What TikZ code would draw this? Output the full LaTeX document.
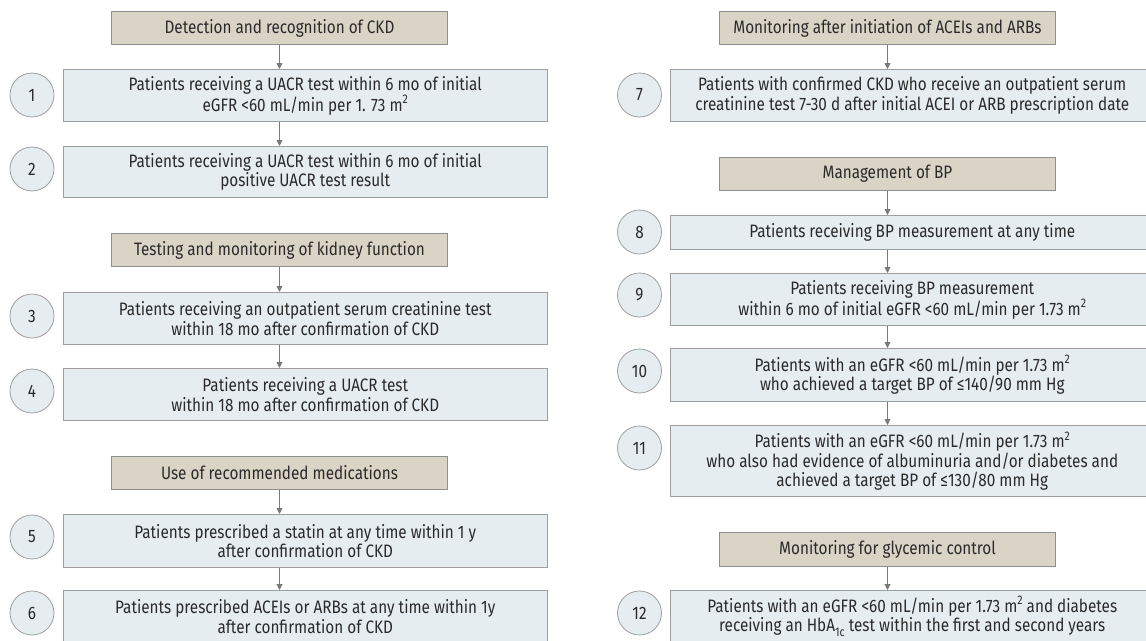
\documentclass[tikz,border=0pt]{standalone}
\usepackage{fontspec}
\setmainfont{Fira Sans}[FakeStretch=0.85]
\usetikzlibrary{arrows.meta}
\definecolor{hdrfill}{HTML}{DAD4C6}
\definecolor{hdrline}{HTML}{8E8E8E}
\definecolor{boxfill}{HTML}{E6EDF1}
\definecolor{boxline}{HTML}{9E9E9E}
\definecolor{txt}{HTML}{2A2A2A}
\definecolor{arrowc}{HTML}{7A7A7A}
\newcommand\mysup[1]{\raisebox{0.42em}{\fontsize{12.5}{12.5}\selectfont #1}}
\newcommand\mysub[1]{\raisebox{-0.28em}{\fontsize{12.5}{12.5}\selectfont #1}}
\begin{document}
\begin{tikzpicture}[x=1pt,y=-1pt, font=\fontsize{18}{19.5}\selectfont, text=txt,
 hdr/.style={draw=hdrline, fill=hdrfill, line width=1pt, minimum width=336pt, minimum height=33pt, inner sep=0pt, anchor=north west},
 box/.style={draw=boxline, fill=boxfill, line width=1pt, minimum width=484.5pt, inner sep=0pt, anchor=north west, align=center},
 num/.style={circle, draw=boxline, fill=boxfill, line width=0.8pt, minimum size=44pt, inner sep=0pt},
 arr/.style={draw=arrowc, line width=0.9pt, -{Triangle[length=6pt,width=6pt]}}]
\useasboundingbox (0,0) rectangle (1146,640);
% left column
\node[hdr] (h1) at (111,11) {Detection and recognition of CKD};
\node[box, minimum height=52pt] (b1) at (62.5,69) {Patients receiving a UACR test within 6 mo of initial\\eGFR <60 mL/min per 1. 73 m\mysup{2}};
\node[box, minimum height=51pt] (b2) at (62.5,146) {Patients receiving a UACR test within 6 mo of initial\\positive UACR test result};
\node[hdr] (h2) at (111,233) {Testing and monitoring of kidney function};
\node[box, minimum height=52pt] (b3) at (62.5,292) {Patients receiving an outpatient serum creatinine test\\within 18 mo after confirmation of CKD};
\node[box, minimum height=52pt] (b4) at (62.5,368) {Patients receiving a UACR test\\within 18 mo after confirmation of CKD};
\node[hdr] (h3) at (111,456) {Use of recommended medications};
\node[box, minimum height=53pt] (b5) at (62.5,514) {Patients prescribed a statin at any time within 1 y\\after confirmation of CKD};
\node[box, minimum height=52pt] (b6) at (62.5,590) {Patients prescribed ACEIs or ARBs at any time within 1y\\after confirmation of CKD};
\node[num] (n1) at (32,95) {1};
\node[num] (n2) at (32,169) {2};
\node[num] (n3) at (32,316) {3};
\node[num] (n4) at (32,391) {4};
\node[num] (n5) at (32,537) {5};
\node[num] (n6) at (32,613) {6};
% right column
\node[hdr] (h4) at (719,11) {Monitoring after initiation of ACEIs and ARBs};
\node[box, minimum height=52pt] (b7) at (669.5,69) {Patients with confirmed CKD who receive an outpatient serum\\creatinine test 7-30 d after initial ACEI or ARB prescription date};
\node[hdr] (h5) at (719,157) {Management of BP};
\node[box, minimum height=34pt] (b8) at (669.5,215) {Patients receiving BP measurement at any time};
\node[box, minimum height=52pt] (b9) at (669.5,273) {Patients receiving BP measurement\\within 6 mo of initial eGFR <60 mL/min per 1.73 m\mysup{2}};
\node[box, minimum height=53pt] (b10) at (669.5,348) {Patients with an eGFR <60 mL/min per 1.73 m\mysup{2}\\who achieved a target BP of ≤140/90 mm Hg};
\node[box, minimum height=71pt] (b11) at (669.5,425) {Patients with an eGFR <60 mL/min per 1.73 m\mysup{2}\\who also had evidence of albuminuria and/or diabetes and\\achieved a target BP of ≤130/80 mm Hg};
\node[hdr, minimum height=34pt] (h6) at (719,532) {Monitoring for glycemic control};
\node[box, minimum height=52pt] (b12) at (669.5,590) {Patients with an eGFR <60 mL/min per 1.73 m\mysup{2} and diabetes\\receiving an HbA\mysub{1c} test within the first and second years};
\node[num] (n7) at (639.5,95) {7};
\node[num] (n8) at (639.5,232) {8};
\node[num] (n9) at (639.5,295) {9};
\node[num] (n10) at (639.5,371) {10};
\node[num] (n11) at (639.5,448) {11};
\node[num] (n12) at (639.5,613) {12};
% arrows
\draw[arr] (h1.south) -- (b1.north -| h1.south);
\draw[arr] (b1.south -| h1.south) -- (b2.north -| h1.south);
\draw[arr] (h2.south) -- (b3.north -| h2.south);
\draw[arr] (b3.south -| h2.south) -- (b4.north -| h2.south);
\draw[arr] (h3.south) -- (b5.north -| h3.south);
\draw[arr] (b5.south -| h3.south) -- (b6.north -| h3.south);
\draw[arr] (h4.south) -- (b7.north -| h4.south);
\draw[arr] (h5.south) -- (b8.north -| h5.south);
\draw[arr] (b8.south -| h5.south) -- (b9.north -| h5.south);
\draw[arr] (b9.south -| h5.south) -- (b10.north -| h5.south);
\draw[arr] (b10.south -| h5.south) -- (b11.north -| h5.south);
\draw[arr] (h6.south) -- (b12.north -| h6.south);
\end{tikzpicture}
\end{document}
